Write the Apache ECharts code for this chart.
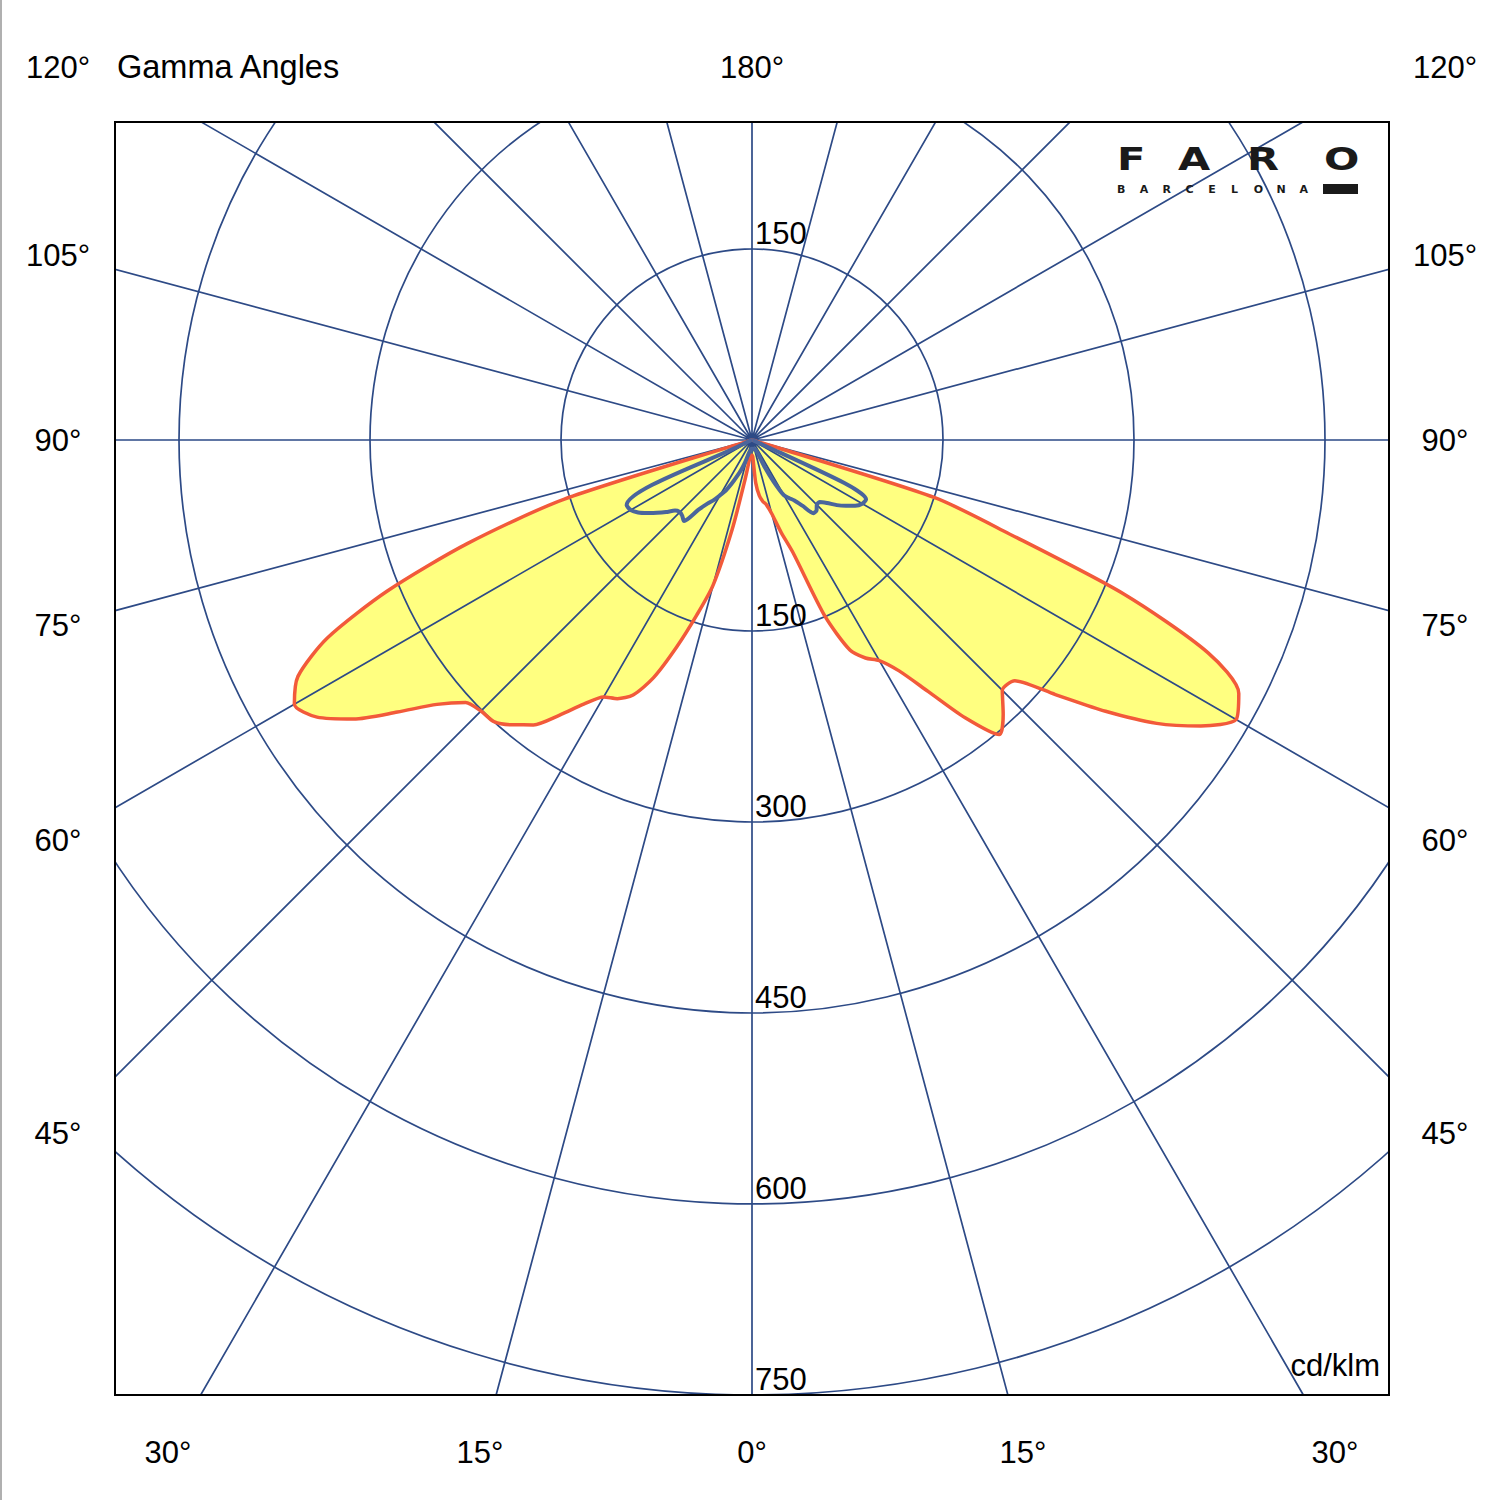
<!DOCTYPE html>
<html>
<head>
<meta charset="utf-8">
<title>Gamma Angles</title>
<script src="https://cdn.jsdelivr.net/npm/echarts@6.0.0/dist/echarts.min.js"></script>
<style>
  html, body { margin: 0; padding: 0; background: #fff; }
  #main { width: 1500px; height: 1500px; }
</style>
</head>
<body>
<div id="main"></div>
<script>
// gamma angles of the measured points (deg)
var gammaSteps = [0, 2.5, 5, 7.5, 10, 12.5, 15, 17.5, 20, 22.5, 25, 27.5, 30, 32.5, 35, 37.5, 40, 42.5,
  45, 47.5, 50, 52.5, 55, 57.5, 60, 62.5, 65, 67.5, 70, 72.5, 75, 77.5, 80, 82.5, 85, 87.5, 90]

// intensity, cd/klm - C0 / C180 plane
var c0Values = [12, 13, 34, 44, 49, 52, 60, 76, 94, 150, 182, 193, 200, 215, 241, 275, 302, 292,
  278, 280, 311, 350, 388, 418, 439, 431, 395, 316, 214, 150, 4, 2, 1, 1, 1, 1, 0]
var c180Values = [12, 12, 12, 16, 32, 72, 118, 144, 173, 202, 221, 229, 233, 246, 264, 282, 292, 300,
  301, 305, 323, 351, 382, 405, 415, 402, 368, 310, 238, 155, 4, 2, 1, 1, 1, 1, 0]

// intensity, cd/klm - C90 / C270 plane
var c90Values = [7, 7, 7, 7, 7, 7, 8, 8, 8, 10, 23, 37, 50, 54, 58, 65, 75, 75,
  72, 72, 77, 84, 90, 96, 100, 101, 80, 5, 2, 1, 1, 1, 0, 0, 0, 0, 0]
var c270Values = [7, 7, 7, 8, 9, 10, 13, 19, 25, 31, 38, 45, 50, 56, 61, 69, 83, 81,
  80, 82, 88, 94, 100, 106, 110, 111, 8, 3, 2, 1, 1, 1, 0, 0, 0, 0, 0]

var radiusTicks = [150, 300, 450, 600, 750]
var sideLabels = ['120°', '105°', '90°', '75°', '60°', '45°']
var bottomLabels = ['30°', '15°', '0°', '15°', '30°']

var gridColor = '#2d4a86'
var textFont = '31px "Liberation Sans", Arial, sans-serif'

// left half = 360 - gamma, right half = gamma (0 at the bottom)
function planePath(leftVals, rightVals) {
  var pts = []
  for (var i = gammaSteps.length - 1; i >= 0; i--) {
    pts.push([leftVals[i], 360 - gammaSteps[i]])
  }
  for (var j = 0; j < gammaSteps.length; j++) {
    pts.push([rightVals[j], gammaSteps[j]])
  }
  return pts
}

var redPath = planePath(c180Values, c0Values)
var bluePath = planePath(c270Values, c90Values)

// text helper for graphic
function label(txt, x, y, align, font) {
  return {
    type: 'text',
    x: x,
    y: y,
    z: 102,
    silent: true,
    style: {
      text: txt,
      font: font || textFont,
      fill: '#000',
      align: align || 'center',
      textAlign: align || 'center',
      verticalAlign: 'middle',
      textVerticalAlign: 'middle'
    }
  }
}

var sideY = [67, 255, 440, 625, 840, 1133]
var bottomX = [168, 480, 752, 1023, 1335]

var elements = [
  // white mask outside the frame
  { type: 'rect', shape: { x: 0, y: 0, width: 1500, height: 122 }, style: { fill: '#fff' }, z: 100, silent: true },
  { type: 'rect', shape: { x: 0, y: 1395, width: 1500, height: 105 }, style: { fill: '#fff' }, z: 100, silent: true },
  { type: 'rect', shape: { x: 0, y: 0, width: 115, height: 1500 }, style: { fill: '#fff' }, z: 100, silent: true },
  { type: 'rect', shape: { x: 1389, y: 0, width: 111, height: 1500 }, style: { fill: '#fff' }, z: 100, silent: true },
  // frame
  { type: 'rect', shape: { x: 115, y: 122, width: 1274, height: 1273 }, style: { fill: null, stroke: '#000', lineWidth: 2 }, z: 101, silent: true },
  { type: 'line', shape: { x1: 1, y1: 0, x2: 1, y2: 1500 }, style: { stroke: '#b0b0b0', lineWidth: 2 }, z: 101, silent: true },
  label('Gamma Angles', 117, 67, 'left', '32.5px "Liberation Sans", Arial, sans-serif'),
  label('180°', 752, 67),
  label('cd/klm', 1380, 1365, 'right')
]

for (var i = 0; i < sideLabels.length; i++) {
  elements.push(label(sideLabels[i], 58, sideY[i]))
  elements.push(label(sideLabels[i], 1445, sideY[i]))
}
for (var k = 0; k < bottomLabels.length; k++) {
  elements.push(label(bottomLabels[k], bottomX[k], 1452))
}

// FARO logo
var logoX = [1117, 1178, 1247, 1324]
'FARO'.split('').forEach(function (ch, n) {
  elements.push({
    type: 'text', x: logoX[n], y: 143, scaleX: 1.3, z: 102, silent: true,
    style: { text: ch, font: 'bold 32px "DejaVu Sans", sans-serif', fill: '#1a1a1a', align: 'left', textAlign: 'left', verticalAlign: 'top', textVerticalAlign: 'top' }
  })
})
'BARCELONA'.split('').forEach(function (ch, n) {
  elements.push({
    type: 'text', x: 1117 + n * 22.8, y: 184, z: 102, silent: true,
    style: { text: ch, font: 'bold 11px "DejaVu Sans", sans-serif', fill: '#1a1a1a', align: 'left', textAlign: 'left', verticalAlign: 'top', textVerticalAlign: 'top' }
  })
})
elements.push({ type: 'rect', shape: { x: 1323, y: 184, width: 35, height: 10 }, style: { fill: '#1a1a1a' }, z: 102, silent: true })

var splitColors = [gridColor, gridColor, gridColor, gridColor, gridColor, gridColor, 'rgba(0,0,0,0)']

var option = {
  animation: false,
  backgroundColor: '#fff',
  polar: [
    { center: [752, 440], radius: 1146 },
    { center: [752, 440], radius: 1146 }
  ],
  angleAxis: [{
    polarIndex: 0,
    type: 'value',
    min: 0,
    max: 360,
    interval: 15,
    startAngle: 270,
    clockwise: false,
    z: 3,
    axisLine: { show: false },
    axisTick: { show: false },
    axisLabel: { show: false },
    splitLine: { show: true, lineStyle: { color: gridColor, width: 1.7 } }
  }, {
    polarIndex: 1,
    type: 'value',
    min: 0,
    max: 360,
    startAngle: 90,
    show: false
  }],
  radiusAxis: [{
    polarIndex: 0,
    type: 'value',
    min: 0,
    max: 900,
    interval: 150,
    z: 3,
    axisLine: { show: false },
    axisTick: { show: false },
    axisLabel: {
      formatter: function (v) { return radiusTicks.indexOf(v) >= 0 ? String(v) : '' },
      fontSize: 31,
      fontFamily: 'Liberation Sans',
      color: '#000',
      align: 'left',
      verticalAlign: 'bottom',
      margin: 3
    },
    splitLine: { show: true, lineStyle: { color: splitColors, width: 1.7 } }
  }, {
    polarIndex: 1,
    type: 'value',
    min: 0,
    max: 900,
    interval: 150,
    z: 3,
    axisLine: { show: false },
    axisTick: { show: false },
    splitLine: { show: false },
    axisLabel: {
      formatter: function (v) { return v === radiusTicks[0] ? String(v) : '' },
      fontSize: 31,
      fontFamily: 'Liberation Sans',
      color: '#000',
      align: 'left',
      verticalAlign: 'bottom',
      margin: -3
    }
  }],
  series: [{
    type: 'line',
    coordinateSystem: 'polar',
    polarIndex: 0,
    data: redPath,
    symbol: 'none',
    smooth: 0.25,
    silent: true,
    z: 1,
    lineStyle: { width: 0, opacity: 0 },
    areaStyle: { color: '#ffff80', opacity: 1 }
  }, {
    type: 'line',
    coordinateSystem: 'polar',
    polarIndex: 0,
    data: redPath,
    symbol: 'none',
    smooth: 0.25,
    z: 5,
    lineStyle: { color: '#f25a3a', width: 3.5 }
  }, {
    type: 'line',
    coordinateSystem: 'polar',
    polarIndex: 0,
    data: bluePath,
    symbol: 'none',
    smooth: 0.25,
    z: 6,
    lineStyle: { color: '#4a659c', width: 4 }
  }],
  graphic: { elements: elements }
}

var chart = echarts.init(document.getElementById('main'), null, { renderer: 'svg' })
chart.setOption(option, true)
</script>
</body>
</html>
